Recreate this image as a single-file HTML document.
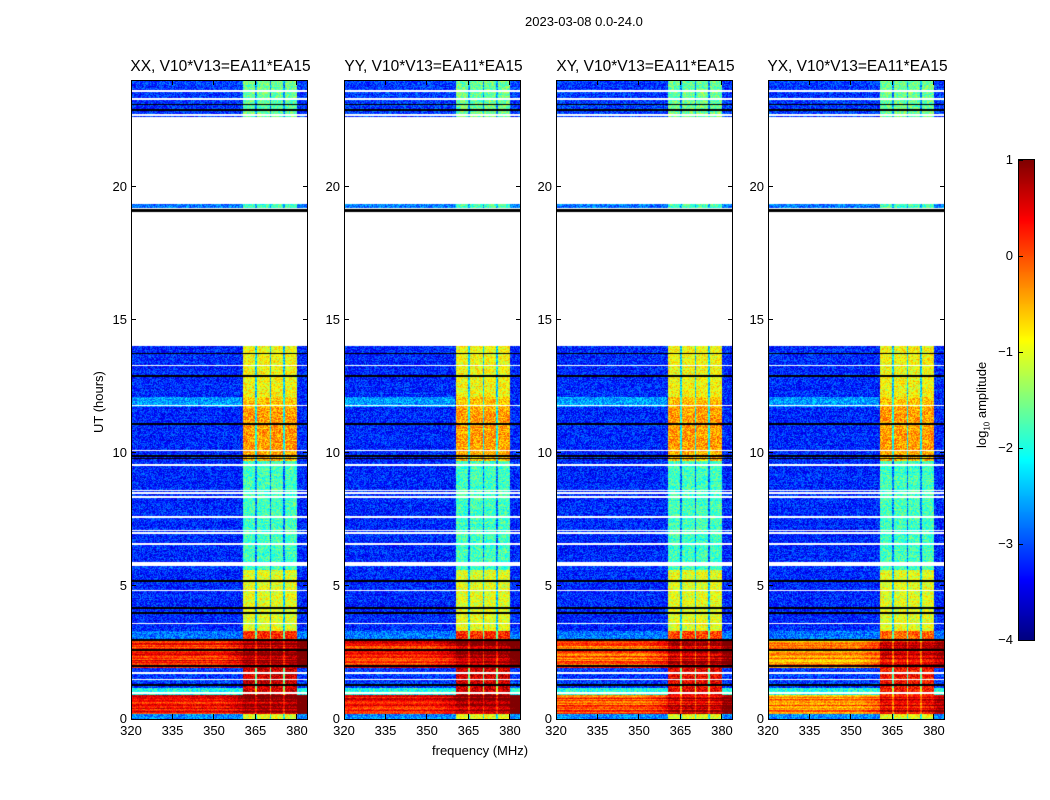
<!DOCTYPE html>
<html><head><meta charset="utf-8">
<style>
body{margin:0;background:#fff;font-family:"Liberation Sans","DejaVu Sans",sans-serif;}
#root{position:relative;width:1050px;height:800px;overflow:hidden;background:#fff;}
.t{position:absolute;font-size:13px;color:#000;white-space:nowrap;}
canvas{position:absolute;}
.ax{position:absolute;border:1px solid #000;box-sizing:border-box;}
.title{position:absolute;font-size:15.5px;white-space:nowrap;transform:translateX(-50%);}
</style></head><body>
<div id="root">
<div class="t" style="left:525px;top:14px;font-size:13px">2023-03-08 0.0-24.0</div>
<div class="t" style="left:432px;top:743px">frequency (MHz)</div>
<div class="t" style="left:91px;top:433px;transform:rotate(-90deg);transform-origin:0 0">UT (hours)</div>
<div class="t" style="left:974px;top:448px;transform:rotate(-90deg);transform-origin:0 0">log<sub style="font-size:8px">10</sub> amplitude</div>
<canvas id="cb" width="15" height="480" style="left:1019px;top:160px"></canvas>
<div class="ax" style="left:1018px;top:159px;width:17px;height:482px"></div>
</div>
<script>
// ---- data ----
const panelNames = ["XX, V10*V13=EA11*EA15","YY, V10*V13=EA11*EA15","XY, V10*V13=EA11*EA15","YX, V10*V13=EA11*EA15"];
const panelStrongOffset = [0, 0, -0.3, -0.6];
// time segments: start hour, end hour, background log amp, RFI-band log amp (null = no data)
const segStart = [0,0.2,0.9,1.15,1.9,3.0,3.3,5.6,5.75,5.9,9.7,10.1,11.7,12.1,14,19.2,19.35,22.6];
const segEnd   = [0.2,0.9,1.15,1.9,3.0,3.3,5.6,5.75,5.9,9.7,10.1,11.7,12.1,14,19.2,19.35,22.6,24];
const segBg    = [-2.7,0.3,-2.0,-3.1,0.2,-2.8,-3.2,-3.1,null,-3.2,-3.2,-3.2,-2.6,-3.2,null,-2.8,null,-3.1];
const segRfi   = [-1.0,0.8,0.6,0.6,0.8,0.2,-1.0,-1.8,null,-1.8,-0.5,-0.4,-0.6,-0.9,null,-1.8,null,-1.6];
const blackLines = [1.3,2.0,2.6,3.0,4.0,4.2,5.2,9.8,9.9,11.1,12.9,13.75,19.1,19.15,22.9,23.1];
const whiteLines = [1.0,1.5,1.75,3.6,4.85,6.6,7.0,7.1,7.6,8.35,8.5,8.6,9.55,10.1,11.8,13.3,22.7,23.3,23.6];
const rfiLo = [360.4,365.4,370.6,375.6];
const rfiHi = [364.7,370.1,374.9,379.9];
const xTicks = [320,335,350,365,380];
const yTicks = [0,5,10,15,20];
const cbTicks = [1,0,-1,-2,-3,-4];
// ---- layout ----
const panelLeft=[131,344,556,768], PW=177, PT=80, PH=639;
const fMin=320, fMax=384, tMin=0, tMax=24, vMin=-4, vMax=1;
const xs=(f,i)=>panelLeft[i]+(f-fMin)/(fMax-fMin)*PW;
const ys=t=>PT+PH-(t-tMin)/(tMax-tMin)*PH;
function jet(v){let x=(v-vMin)/(vMax-vMin);x=Math.max(0,Math.min(1,x));
 const c=a=>Math.max(0,Math.min(1,a));
 return [c(1.5-Math.abs(4*x-3)),c(1.5-Math.abs(4*x-2)),c(1.5-Math.abs(4*x-1))].map(q=>Math.round(q*255));}
function hash(a,b){let h=(a*374761393+b*668265263)|0;h=(h^(h>>>13))*1274126177|0;return ((h^(h>>>16))>>>0)/4294967296;}
const root=document.getElementById('root');
function txt(s,x,y,name,align){const d=document.createElement('div');d.className='t';d.textContent=s;d.style.top=y+'px';
 if(align==='r'){d.style.right=(1050-x)+'px';}else if(align==='c'){d.style.left=x+'px';d.style.transform='translateX(-50%)';}else d.style.left=x+'px';
 
 
 root.appendChild(d);return d;}
for(let p=0;p<4;p++){
 const cv=document.createElement('canvas');cv.width=PW;cv.height=PH;cv.style.left=panelLeft[p]+'px';cv.style.top=PT+'px';
 
 
 root.appendChild(cv);
 const ctx=cv.getContext('2d');const img=ctx.createImageData(PW,PH);
 for(let py=0;py<PH;py++){
  const t=tMax-(py+0.5)/PH*(tMax-tMin);
  let s=-1;for(let k=0;k<segStart.length;k++){if(t>=segStart[k]&&t<segEnd[k]){s=k;break;}}
  let col=null;
  if(blackLines.some(h=>Math.abs(ys(h)-PT-py)<0.9)) col=[0,0,0];
  else if(whiteLines.some(h=>Math.abs(ys(h)-PT-py)<0.8)) col=[255,255,255];
  for(let px=0;px<PW;px++){
   const o=(py*PW+px)*4;let c=col;
   if(!c){ if(s<0||segBg[s]===null) c=[255,255,255]; else{
     const f=fMin+(px+0.5)/PW*(fMax-fMin);
     let bg=segBg[s],rf=segRfi[s];
     if(bg>-1.5) bg+=panelStrongOffset[p];
     if(rf>-0.2) rf+=panelStrongOffset[p]*0.5;
     let v=bg;
     if(bg>-1.5 && f>352) v=bg+(f-352)/8*0.3;
     if(s===12 && f>360) v=-3.2;
     let inB=false;for(let k=0;k<rfiLo.length;k++) if(f>=rfiLo[k]&&f<=rfiHi[k]) inB=true;
     if(inB) v=rf; else if(f>=rfiLo[0]&&f<=rfiHi[3]) v=Math.max(bg,(bg+rf)/2-0.3);
     const rowN=hash(py,p*7+1)-0.5;
     v+= (hash(px+p*1000,py)-0.5)*(bg>-1.5?0.6:0.9) + rowN*(bg>-1.5?0.8:0.15);
     c=jet(v);} }
   img.data[o]=c[0];img.data[o+1]=c[1];img.data[o+2]=c[2];img.data[o+3]=255;
  }
 }
 ctx.putImageData(img,0,0);
 const fr=document.createElement('div');fr.className='ax';
 fr.style.cssText=`left:${panelLeft[p]}px;top:${PT}px;width:${PW}px;height:${PH+1}px`;
 
 
 root.appendChild(fr);
 const tt=document.createElement('div');tt.className='title';tt.textContent=panelNames[p];
 tt.style.left=(panelLeft[p]+PW/2+1)+'px';tt.style.top='58px';
 
 
 root.appendChild(tt);
 xTicks.forEach(v=>{const x=xs(v,p);
  ['top','bot'].forEach(w=>{const k=document.createElement('div');k.style.cssText=`position:absolute;left:${x-0.5}px;top:${w==='top'?PT:PT+PH-5}px;width:1px;height:5px;background:#000`;
   
   
   root.appendChild(k);});
  txt(String(v),x,723,'x-tick-label','c');});
 yTicks.forEach(v=>{const y=ys(v);
  [panelLeft[p],panelLeft[p]+PW-5].forEach(x=>{const k=document.createElement('div');k.style.cssText=`position:absolute;left:${x}px;top:${y-0.5}px;width:5px;height:1px;background:#000`;
   
   
   root.appendChild(k);});
  txt(String(v),panelLeft[p]-4,y-8,'y-tick-label','r');});
}
// colorbar
const cb=document.getElementById('cb').getContext('2d');
for(let y=0;y<480;y++){const c=jet(vMax-(y+0.5)/480*(vMax-vMin));cb.fillStyle=`rgb(${c})`;cb.fillRect(0,y,15,1);}
cbTicks.forEach(v=>{const y=160+(vMax-v)/(vMax-vMin)*480;
 txt(v<0?'\u2212'+(-v):String(v),1013,y-8,'colorbar-tick-label','r');
 const k=document.createElement('div');k.style.cssText=`position:absolute;left:1019px;top:${y-0.5}px;width:4px;height:1px;background:#000`;
 
 
 root.appendChild(k);});
</script>
</body></html>
